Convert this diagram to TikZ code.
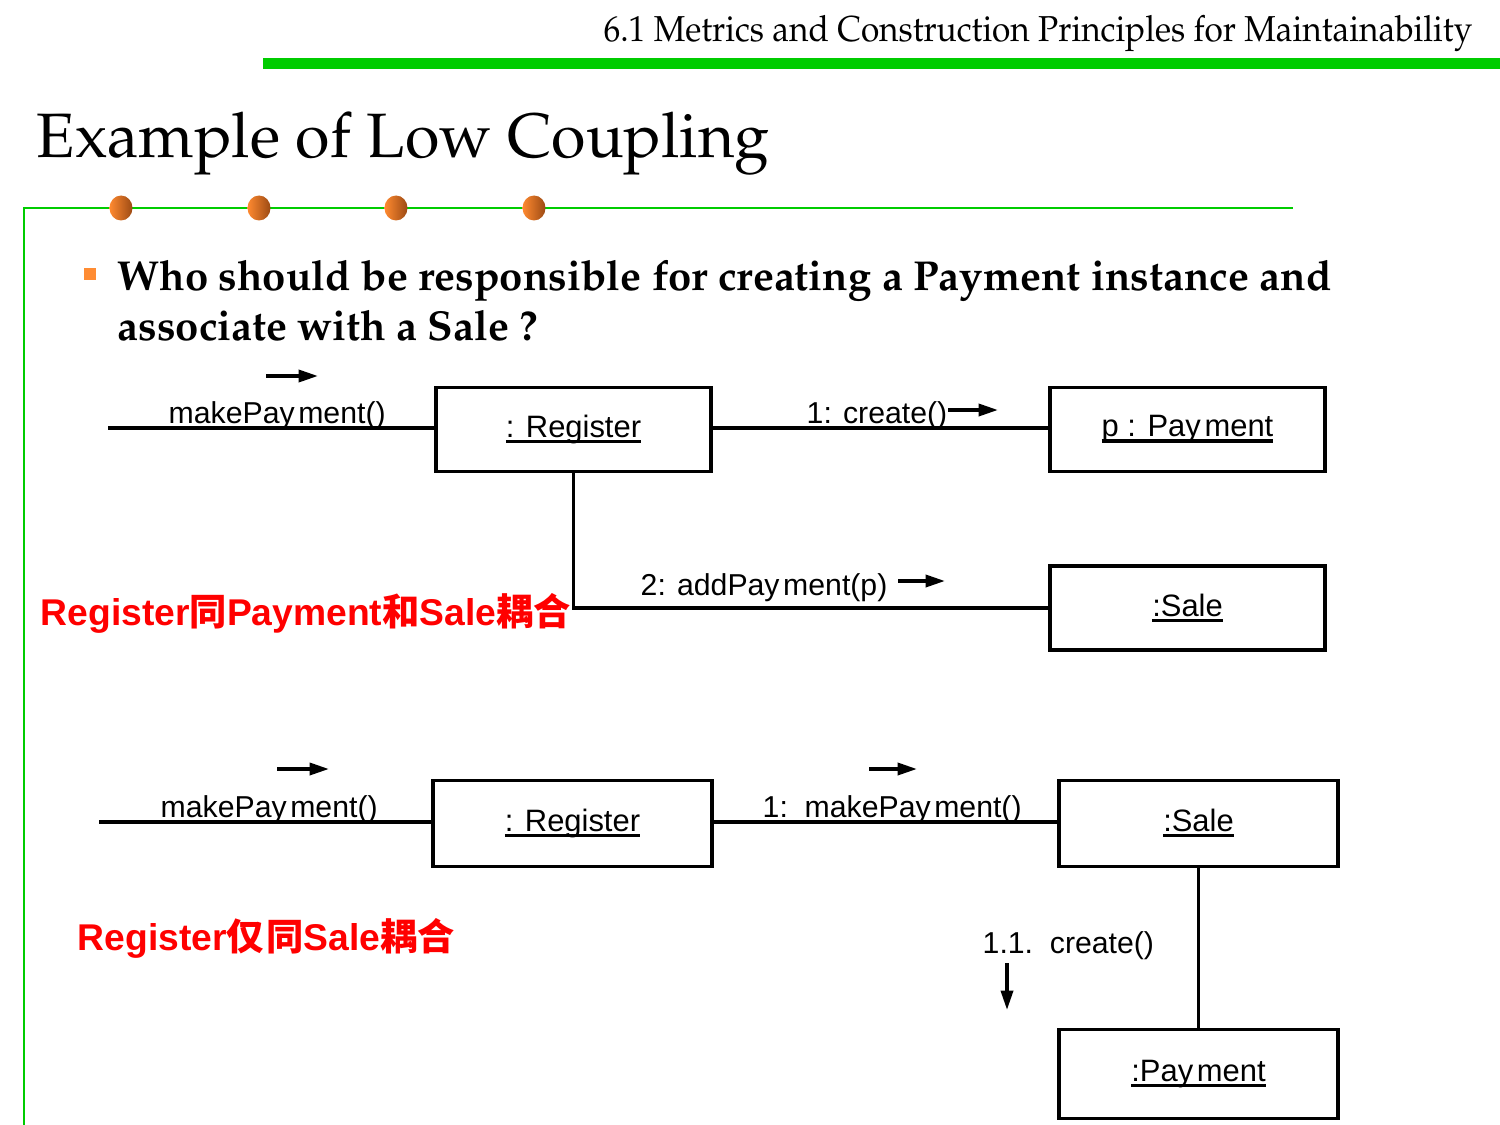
\documentclass[tikz,border=0pt]{standalone}
\usepackage[T1]{fontenc}
\usepackage{fontspec}
\usetikzlibrary{arrows.meta}
\newfontfamily\arialf{Liberation Sans}
\newfontfamily\cjk{Noto Sans CJK SC}
\newcommand\palfont{\fontencoding{T1}\fontfamily{ppl}\selectfont}
% object name with a heavy underline, as in UML instance boxes
\newcommand\objname[1]{\setbox0\hbox{#1}\rlap{\usebox0}\rule[-0.18em]{\wd0}{0.11em}}
\definecolor{slidegreen}{HTML}{00CC00}
\definecolor{dotorange}{HTML}{FF8A30}
\definecolor{dotbrown}{HTML}{9C4A14}
\definecolor{bulletorange}{HTML}{FF8C33}
\definecolor{notered}{HTML}{FF0000}
\tikzset{
  objbox/.style={draw, line width=1pt, inner sep=0pt,
    minimum width=27.5mm, minimum height=8.4mm,
    font=\arialf\fontsize{8.8}{10}\selectfont},
  link/.style={line width=1pt},
  msglabel/.style={anchor=base west, inner sep=0pt,
    font=\arialf\fontsize{8.6}{10}\selectfont},
  msgarrow/.style={line width=1pt, -{Triangle[length=5.5pt,width=3.4pt]}},
  notetext/.style={anchor=base west, inner sep=0pt, text=notered,
    font=\arialf\bfseries\fontsize{10.6}{12}\selectfont},
  frameline/.style={slidegreen, line width=0.6pt},
  rivet/.style={left color=dotorange, right color=dotbrown},
}
\begin{document}
\begin{tikzpicture}[x=0.1mm, y=-0.1mm]
\useasboundingbox (0,0) rectangle (1500,1125);

% ---- page header ----
\fill[slidegreen] (263,58) rectangle (1500,69);
\node[anchor=base east, inner sep=0pt, font=\palfont\fontsize{9.5}{12}\selectfont, yscale=1.08]
  (header) at (1473,42) {6.1 Metrics and Construction Principles for Maintainability};
\node[anchor=base west, inner sep=0pt, font=\palfont\fontsize{17.85}{22}\selectfont]
  (title) at (36,158) {Example of Low Coupling};

% ---- frame with rivets ----
\draw[frameline] (24,1125) -- (24,208) -- (1293,208);
\foreach \cx in {121,259,396,534}
  \shade[rivet] (\cx,208) ellipse [x radius=1.15mm, y radius=1.25mm];

% ---- question ----
\fill[bulletorange] (84,268) rectangle (96,280);
\node[anchor=base west, inner sep=0pt, font=\palfont\bfseries\fontsize{11.9}{15}\selectfont]
  (q1) at (117,290) {Who should be responsible for creating a Payment instance and};
\node[anchor=base west, inner sep=0pt, font=\palfont\bfseries\fontsize{11.9}{15}\selectfont]
  (q2) at (117,340) {associate with a Sale ?};

% ---- first design: Register creates Payment ----
\node[objbox] (reg1) at (573.5,429.5) {\objname{: Register}};
\node[objbox] (pay1) at (1187.5,429.5) {\objname{p : Pay\hspace{0.12em}ment}};
\node[objbox] (sale1) at (1187.5,608) {\objname{:Sale}};
\coordinate (in1) at (108,428);

\draw[link] (in1) -- (in1 -| reg1.west);
\draw[link] (reg1.east |- in1) -- (pay1.west |- in1);
\draw[link] (reg1.south) |- (sale1.west);

\node[msglabel] (m1) at (168,423) {makePay\hspace{0.12em}ment()};
\coordinate (a1s) at (266,376); \coordinate (a1e) at (318,376);
\draw[msgarrow] (a1s) -- (a1e);

\node[msglabel] (m2) at (806,423) {1: create()};
\coordinate (a2s) at (948,410); \coordinate (a2e) at (998,410);
\draw[msgarrow] (a2s) -- (a2e);

\node[msglabel] (m3) at (640,595) {2: addPay\hspace{0.12em}ment(p)};
\coordinate (a3s) at (898,581); \coordinate (a3e) at (945,581);
\draw[msgarrow] (a3s) -- (a3e);

\node[notetext] (note1) at (40,625) {Register{\cjk 同}Payment{\cjk 和}Sale{\cjk 耦合}};

% ---- second design: Sale creates Payment ----
\node[objbox, minimum width=27.9mm, minimum height=8.6mm] (reg2) at (572.5,823.5) {\objname{: Register}};
\node[objbox, minimum width=27.9mm, minimum height=8.6mm] (sale2) at (1198.5,823.5) {\objname{:Sale}};
\node[objbox, minimum width=27.9mm, minimum height=8.9mm] (pay2) at (1198.5,1074) {\objname{:Pay\hspace{0.12em}ment}};
\coordinate (in2) at (99,822);

\draw[link] (in2) -- (in2 -| reg2.west);
\draw[link] (reg2.east |- in2) -- (sale2.west |- in2);
\draw[link] (sale2.south) -- (pay2.north);

\node[msglabel] (m4) at (160,817) {makePay\hspace{0.12em}ment()};
\coordinate (a4s) at (277,769); \coordinate (a4e) at (329,769);
\draw[msgarrow] (a4s) -- (a4e);

\node[msglabel] (m5) at (762,817) {1:\ \ makePay\hspace{0.12em}ment()};
\coordinate (a5s) at (869,769); \coordinate (a5e) at (917,769);
\draw[msgarrow] (a5s) -- (a5e);

\node[msglabel] (m6) at (982,953) {1.1.\ \ create()};
\coordinate (a6s) at (1007,963); \coordinate (a6e) at (1007,1010);
\draw[msgarrow] (a6s) -- (a6e);

\node[notetext] (note2) at (77,950) {Register{\cjk 仅\hspace{0.06em}同}Sale{\cjk 耦合}};
\end{tikzpicture}
\end{document}
